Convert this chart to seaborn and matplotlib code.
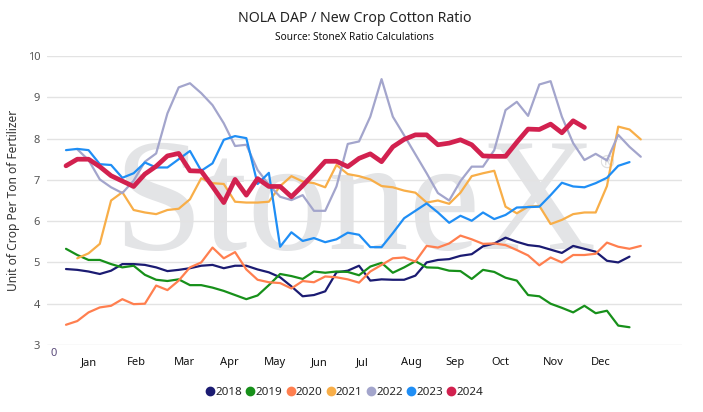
import numpy as np
import pandas as pd
import matplotlib
matplotlib.use("Agg")
import matplotlib.pyplot as plt
from matplotlib.lines import Line2D
import seaborn as sns

nan = np.nan

# ---------------- data (weekly ratio values, week 0 .. 51) ----------------
years = ["2018", "2019", "2020", "2021", "2022", "2023", "2024"]

s2018 = [4.84, 4.82, 4.78, 4.72, 4.80, 4.96, 4.96, 4.94, 4.88, 4.79, 4.82, 4.86, 4.92, 4.94,
         4.86, 4.92, 4.92, 4.83, 4.76, 4.64, 4.42, 4.18, 4.21, 4.30, 4.76, 4.80, 4.92, 4.56,
         4.59, 4.58, 4.58, 4.68, 5.00, 5.06, 5.08, 5.16, 5.20, 5.39, 5.46, 5.60, 5.50, 5.42,
         5.39, 5.31, 5.23, 5.40, 5.33, 5.26, 5.04, 5.00, 5.14]
s2019 = [5.33, 5.18, 5.06, 5.06, 4.96, 4.88, 4.92, 4.70, 4.58, 4.55, 4.59, 4.45, 4.45, 4.39,
         4.31, 4.21, 4.11, 4.20, 4.45, 4.72, 4.67, 4.60, 4.78, 4.75, 4.78, 4.77, 4.69, 4.90,
         4.99, 4.75, 4.88, 5.03, 4.88, 4.87, 4.80, 4.79, 4.60, 4.82, 4.77, 4.63, 4.56, 4.21,
         4.18, 4.00, 3.90, 3.79, 3.95, 3.77, 3.83, 3.47, 3.43]
s2020 = [3.49, 3.58, 3.79, 3.91, 3.95, 4.11, 3.99, 4.00, 4.44, 4.33, 4.56, 4.88, 5.00, 5.36,
         5.10, 5.25, 4.83, 4.58, 4.52, 4.50, 4.37, 4.55, 4.52, 4.66, 4.64, 4.59, 4.51, 4.78,
         4.94, 5.10, 5.12, 5.02, 5.40, 5.36, 5.46, 5.65, 5.56, 5.45, 5.46, 5.42, 5.30, 5.17,
         4.93, 5.12, 5.00, 5.18, 5.18, 5.21, 5.48, 5.38, 5.33, 5.40]
s2021 = [nan, 5.10, 5.22, 5.45, 6.50, 6.70, 6.27, 6.21, 6.17, 6.27, 6.30, 6.53, 7.04, 6.92,
         6.90, 6.47, 6.45, 6.45, 6.47, 6.85, 7.09, 6.96, 6.92, 6.82, 7.36, 7.14, 7.09, 7.01,
         6.85, 6.82, 6.74, 6.69, 6.45, 6.50, 6.42, 6.69, 7.09, 7.16, 7.22, 6.35, 6.19, 6.35,
         6.37, 5.93, 6.03, 6.17, 6.21, 6.21, 6.85, 8.29, 8.22, 7.98]
s2022 = [nan, 7.74, 7.48, 7.01, 6.82, 6.68, 6.98, 7.44, 7.64, 8.61, 9.24, 9.34, 9.10, 8.81,
         8.37, 7.82, 7.85, 7.24, 6.88, 6.59, 6.51, 6.63, 6.25, 6.25, 6.84, 7.87, 7.93, 8.53,
         9.44, 8.53, 8.08, 7.62, 7.16, 6.68, 6.50, 6.97, 7.32, 7.32, 7.72, 8.69, 8.89, 8.55,
         9.31, 9.39, 8.53, 7.89, 7.48, 7.63, 7.47, 8.09, 7.80, 7.56]
s2023 = [7.72, 7.75, 7.72, 7.38, 7.36, 7.05, 7.16, 7.42, 7.30, 7.30, 7.50, 7.70, 7.22, 7.40,
         7.97, 8.06, 8.01, 6.90, 7.17, 5.38, 5.73, 5.52, 5.59, 5.49, 5.56, 5.72, 5.67, 5.37,
         5.37, 5.71, 6.07, 6.25, 6.43, 6.21, 5.96, 6.13, 6.01, 6.21, 6.05, 6.15, 6.33, 6.34,
         6.35, 6.63, 6.93, 6.84, 6.82, 6.92, 7.05, 7.34, 7.43]
s2024 = [7.34, 7.50, 7.50, 7.32, 7.10, 6.97, 6.84, 7.14, 7.33, 7.58, 7.64, 7.22, 7.21, 6.84,
         6.45, 7.01, 6.63, 7.03, 6.84, 6.84, 6.59, 6.86, 7.15, 7.45, 7.45, 7.32, 7.52, 7.63,
         7.44, 7.80, 7.98, 8.09, 8.09, 7.85, 7.89, 7.97, 7.85, 7.58, 7.57, 7.57, 7.91, 8.23,
         8.22, 8.35, 8.14, 8.43, 8.27]

series = [s2018, s2019, s2020, s2021, s2022, s2023, s2024]

month_labels = ["Jan", "Feb", "Mar", "Apr", "May", "Jun",
                "Jul", "Aug", "Sep", "Oct", "Nov", "Dec"]
y_ticks = [3, 4, 5, 6, 7, 8, 9, 10]

# ---------------- style ----------------
colors = {"2018": "#1b1b72", "2019": "#17901a", "2020": "#ff7f4f", "2021": "#f8ae48",
          "2022": "#a3a5cc", "2023": "#1f8ef5", "2024": "#d2214f"}
widths = {y: 1.6 for y in years}
widths["2024"] = 3.4

sns.set_theme(style="white")
plt.rcParams["font.family"] = ["Noto Sans", "DejaVu Sans"]

W, H = 703, 412
fig = plt.figure(figsize=(W / 100, H / 100), dpi=100)
ax = fig.add_axes([47 / W, 1 - 345 / H, (682 - 47) / W, (345 - 56) / H])

rows = []
for yr, vals in zip(years, series):
    for wk, v in enumerate(vals):
        rows.append({"week": wk, "value": v, "year": yr})
df = pd.DataFrame(rows).dropna()

# watermark
ax.text(113, H - 249, "StoneX", transform=None, fontsize=116, family="Liberation Serif",
        color="#e3e4e6", ha="left", va="baseline", zorder=0.1)
ax.text(607, H - 163, "®", transform=None, fontsize=13, color="#e0e0e0",
        ha="center", va="center", zorder=0.1)

for yr in years:
    d = df[df["year"] == yr]
    sns.lineplot(data=d, x="week", y="value", color=colors[yr], linewidth=widths[yr],
                 ax=ax, zorder=3 if yr == "2024" else 2,
                 solid_joinstyle="round", solid_capstyle="round")

# axes ranges derived from pixel layout: week i sits at 66 + 11.27 i px
px_per_wk = 11.27
x0_px = 66
ax.set_xlim((47 - x0_px) / px_per_wk, (682 - x0_px) / px_per_wk)
ax.set_ylim(3, 10)

month_px = [89.3, 136.7, 184, 229, 275, 319, 362.7, 411, 455.3, 500.7, 553.3, 600.7]
ax.set_xticks([(p - x0_px) / px_per_wk for p in month_px])
ax.set_xticklabels(month_labels, fontsize=8, fontweight="bold", color="#111111")
ax.set_yticks(y_ticks)
ax.set_yticklabels([str(v) for v in y_ticks], fontsize=8, color="#555555")
ax.tick_params(axis="x", length=0, pad=8.5)
ax.tick_params(axis="y", length=0, pad=5)
ax.grid(axis="y", color="#e3e3e3", linewidth=1.0, zorder=0.5)
ax.grid(axis="x", visible=False)
ax.set_axisbelow(True)
for sp in ax.spines.values():
    sp.set_visible(False)
ax.set_xlabel("")
ax.set_ylabel("")
ax.patch.set_alpha(0)

fig.text(54 / W, 1 - 354 / H, "0", fontsize=8, color="#5a4a7a", ha="center", va="center")
fig.text(14 / W, 1 - 200 / H, "Unit of Crop Per Ton of Fertilizer", rotation=90,
         fontsize=8.6, color="#333333", ha="center", va="center")

fig.text(355 / W, 1 - 18 / H, "NOLA DAP / New Crop Cotton Ratio", fontsize=10.2,
         color="#222222", ha="center", va="center")
fig.text(354 / W, 1 - 38 / H, "Source: StoneX Ratio Calculations", fontsize=7.3,
         fontweight="bold", color="#111111", ha="center", va="center")

handles = [Line2D([0], [0], marker="o", linestyle="none", markersize=6,
                  markerfacecolor=colors[y], markeredgecolor=colors[y]) for y in years]
fig.legend(handles, years, loc="center", bbox_to_anchor=(344 / W, 1 - 392 / H), ncol=7,
           frameon=False, handletextpad=0.0, columnspacing=0.25, handlelength=0.9,
           prop={"size": 8.4, "weight": "bold"})

fig.savefig("out.png", dpi=100)
